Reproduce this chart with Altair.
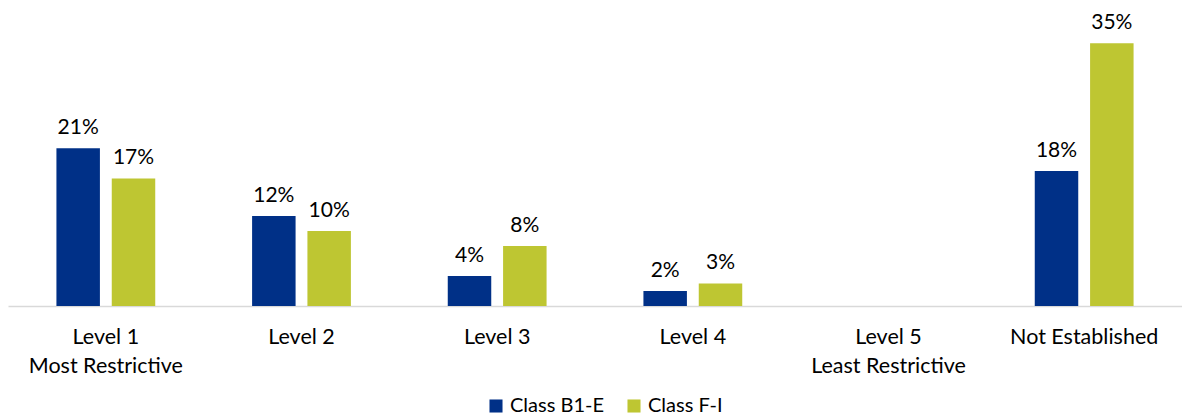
import altair as alt
import pandas as pd

categories = ["Level 1|Most Restrictive", "Level 2", "Level 3", "Level 4",
              "Level 5|Least Restrictive", "Not Established"]
series = ["Class B1-E", "Class F-I"]
b1e = [21, 12, 4, 2, None, 18]
fi = [17, 10, 8, 3, None, 35]
colors = ["#003087", "#BEC632"]

rows = []
for c, a, b in zip(categories, b1e, fi):
    if a is not None:
        rows.append({"cat": c, "series": series[0], "value": a, "label": f"{a}%"})
    if b is not None:
        rows.append({"cat": c, "series": series[1], "value": b, "label": f"{b}%"})
df = pd.DataFrame(rows)

FONT = "Lato"

x = alt.X("cat:N", sort=categories,
          scale=alt.Scale(domain=categories, paddingInner=0.495, paddingOuter=0.2475),
          axis=alt.Axis(title=None, labelAngle=0, ticks=False, domainColor="#d9d9d9",
                        domainWidth=1.5, labelFont=FONT, labelFontSize=21.5,
                        labelColor="#000000", labelPadding=20, labelLineHeight=29,
                        labelExpr="split(datum.value, '|')"))
xo = alt.XOffset("series:N", sort=series, scale=alt.Scale(paddingInner=0.214))
y = alt.Y("value:Q", scale=alt.Scale(domain=[0, 38.9], nice=False), axis=None)

base = alt.Chart(df).encode(x=x, xOffset=xo, y=y)

bars = base.mark_bar().encode(
    color=alt.Color("series:N", sort=series,
                    scale=alt.Scale(domain=series, range=colors),
                    legend=alt.Legend(title=None, orient="none", direction="horizontal",
                                      legendX=478, legendY=382, symbolType="square",
                                      symbolSize=170, symbolStrokeWidth=0,
                                      labelFont=FONT, labelFontSize=20,
                                      labelColor="#000000", columnPadding=20,
                                      symbolOffset=0))
)
labels = base.mark_text(dy=-10, baseline="bottom", font=FONT, fontSize=21,
                        color="#000000").encode(text="label:N")

chart = (bars + labels).properties(
    width=1174, height=292,
    autosize=alt.AutoSizeParams(type="none"),
    padding={"left": 0, "top": 6, "right": 0, "bottom": 112},
).configure_view(stroke=None)

chart.save("out.html", embed_options={"renderer": "svg", "actions": False})
